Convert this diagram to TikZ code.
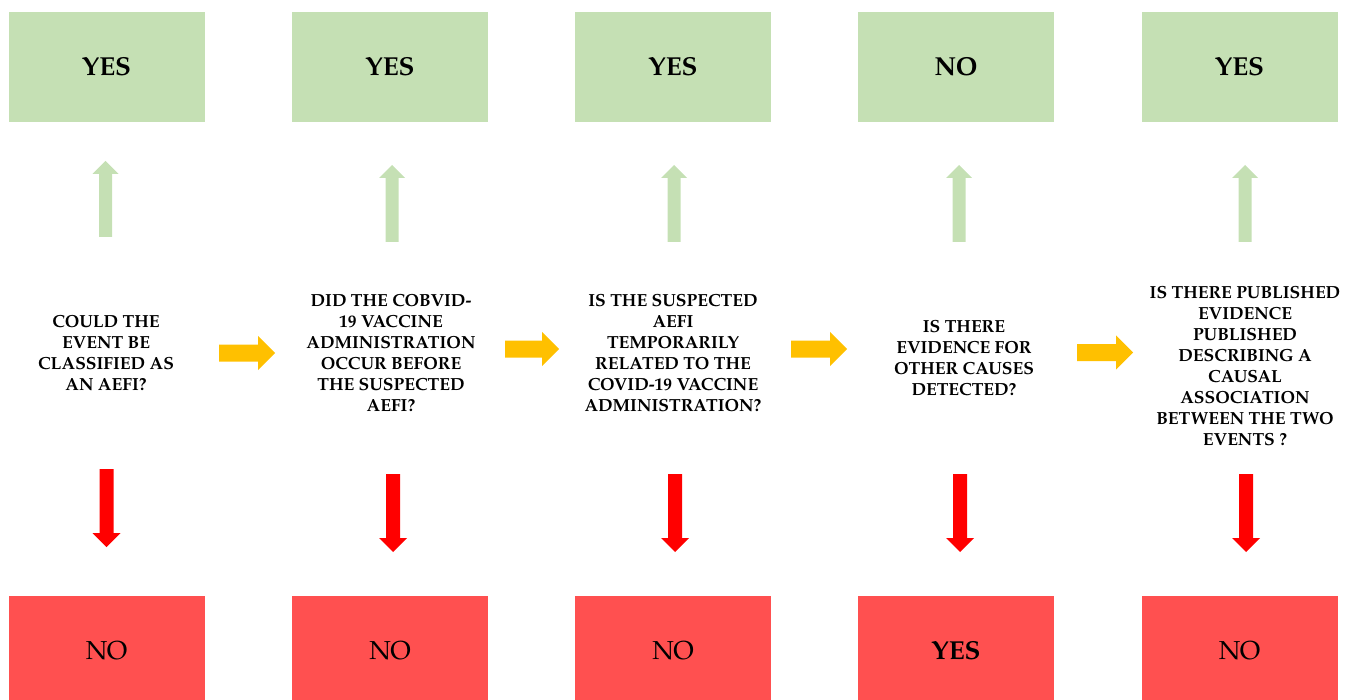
\documentclass[tikz,border=0pt]{standalone}
\usepackage{fontspec}
\setmainfont{texgyrepagella}[Extension=.otf, UprightFont=*-regular, BoldFont=*-bold]
\definecolor{gboxc}{HTML}{C5E0B4}
\definecolor{rboxc}{HTML}{FF5050}
\definecolor{yarrc}{HTML}{FFC000}
\definecolor{rarrc}{HTML}{FF0000}
\newcommand\blkup[3]{% cx, tip y, bottom y
  \fill[gboxc] (#1-6.5,#3) -- (#1-6.5,#2+13) -- (#1-13,#2+13) -- (#1,#2) -- (#1+13,#2+13) -- (#1+6.5,#2+13) -- (#1+6.5,#3) -- cycle;}
\newcommand\blkdown[3]{% cx, top y, tip y
  \fill[rarrc] (#1-7,#2) -- (#1-7,#3-14) -- (#1-14,#3-14) -- (#1,#3) -- (#1+14,#3-14) -- (#1+7,#3-14) -- (#1+7,#2) -- cycle;}
\newcommand\blkright[3]{% x left, x tip, cy
  \fill[yarrc] (#1,#3-8.5) -- (#2-17,#3-8.5) -- (#2-17,#3-17) -- (#2,#3) -- (#2-17,#3+17) -- (#2-17,#3+8.5) -- (#1,#3+8.5) -- cycle;}
\begin{document}
\begin{tikzpicture}[x=1pt,y=-1pt,
  boxst/.style={minimum width=196pt,minimum height=110pt,inner sep=0pt,font=\fontsize{26}{30}\selectfont},
  gbox/.style={boxst,fill=gboxc,font=\fontsize{26}{30}\selectfont\bfseries},
  rbox/.style={boxst,fill=rboxc},
  qst/.style={align=center,inner sep=0pt,font=\fontsize{17.5}{21}\selectfont\bfseries}]
\useasboundingbox (0,0) rectangle (1351,700);
\clip (0,0) rectangle (1351,700);
% answer boxes (top)
\node[gbox] (g1) at (106.5,67) {YES};
\node[gbox] (g2) at (390,67) {YES};
\node[gbox] (g3) at (673,67) {YES};
\node[gbox] (g4) at (956,67) {NO};
\node[gbox] (g5) at (1239.5,67) {YES};
% answer boxes (bottom)
\node[rbox] (r1) at (106.5,651) {NO};
\node[rbox] (r2) at (390,651) {NO};
\node[rbox] (r3) at (673,651) {NO};
\node[rbox,font=\fontsize{26}{30}\selectfont\bfseries] (r4) at (956,651) {YES};
\node[rbox] (r5) at (1239.5,651) {NO};
% questions
\node[qst] (q1) at (106,353.5) {COULD THE\\EVENT BE\\CLASSIFIED AS\\AN AEFI?};
\node[qst] (q2) at (391,353.5) {DID THE COBVID-\\19 VACCINE\\ADMINISTRATION\\OCCUR BEFORE\\THE SUSPECTED\\AEFI?};
\node[qst] (q3) at (673,353.5) {IS THE SUSPECTED\\AEFI\\TEMPORARILY\\RELATED TO THE\\COVID-19 VACCINE\\ADMINISTRATION?};
\node[qst] (q4) at (964,358) {IS THERE\\EVIDENCE FOR\\OTHER CAUSES\\DETECTED?};
\node[qst] (q5) at (1245,366) {IS THERE PUBLISHED\\EVIDENCE\\PUBLISHED\\DESCRIBING A\\CAUSAL\\ASSOCIATION\\BETWEEN THE TWO\\EVENTS ?};
% green up arrows
\blkup{105.5}{161}{237}
\blkup{392}{165}{242}
\blkup{674}{165}{242}
\blkup{959}{165}{242}
\blkup{1245}{165}{242}
% red down arrows
\blkdown{106.5}{469}{547}
\blkdown{393}{474}{552}
\blkdown{675}{474}{552}
\blkdown{960}{474}{552}
\blkdown{1246}{474}{552}
% yellow right arrows
\blkright{219}{275}{353}
\blkright{505}{559}{349}
\blkright{791}{847}{349}
\blkright{1077}{1133}{352.5}
\end{tikzpicture}
\end{document}
